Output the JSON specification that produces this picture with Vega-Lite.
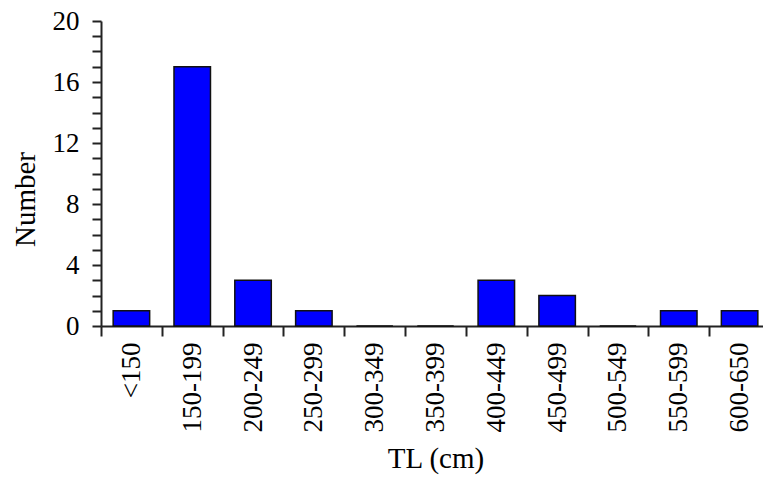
{
  "$schema": "https://vega.github.io/schema/vega-lite/v6.json",
  "autosize": "none",
  "width": 662,
  "height": 305,
  "padding": {"left": 101, "top": 21, "right": 0, "bottom": 154},
  "background": "white",
  "config": {
    "view": {"stroke": null},
    "font": "Liberation Serif",
    "axis": {
      "labelFont": "Liberation Serif",
      "titleFont": "Liberation Serif",
      "labelFontSize": 27,
      "titleFontSize": 29,
      "titleFontWeight": "normal",
      "labelColor": "#000",
      "titleColor": "#000",
      "domainColor": "#222",
      "tickColor": "#222",
      "domainWidth": 2,
      "tickWidth": 2,
      "grid": false
    }
  },
  "data": {
    "values": [
      {"TL": "<150", "Number": 1},
      {"TL": "150-199", "Number": 17},
      {"TL": "200-249", "Number": 3},
      {"TL": "250-299", "Number": 1},
      {"TL": "300-349", "Number": 0},
      {"TL": "350-399", "Number": 0},
      {"TL": "400-449", "Number": 3},
      {"TL": "450-499", "Number": 2},
      {"TL": "500-549", "Number": 0},
      {"TL": "550-599", "Number": 1},
      {"TL": "600-650", "Number": 1}
    ]
  },
  "mark": {"type": "bar", "fill": "#0000FF", "stroke": "#111", "strokeWidth": 1.5, "width": {"band": 0.6}},
  "encoding": {
    "x": {
      "field": "TL",
      "type": "nominal",
      "sort": null,
      "scale": {"paddingInner": 0, "paddingOuter": 0, "range": [0, 669]},
      "axis": {
        "title": "TL (cm)",
        "labelAngle": -90,
        "labelAlign": "right",
        "labelBaseline": "middle",
        "bandPosition": 0,
        "tickBand": "extent",
        "tickSize": 10,
        "labelPadding": 6,
        "titlePadding": 13
      }
    },
    "y": {
      "field": "Number",
      "type": "quantitative",
      "scale": {"domain": [0, 20], "nice": false},
      "axis": {
        "title": "Number",
        "titleY": 178,
        "values": [0,1,2,3,4,5,6,7,8,9,10,11,12,13,14,15,16,17,18,19,20],
        "labelExpr": "datum.value % 4 === 0 ? datum.label : ''",
        "tickSize": 9,
        "labelPadding": 13,
        "titlePadding": 12
      }
    }
  }
}
